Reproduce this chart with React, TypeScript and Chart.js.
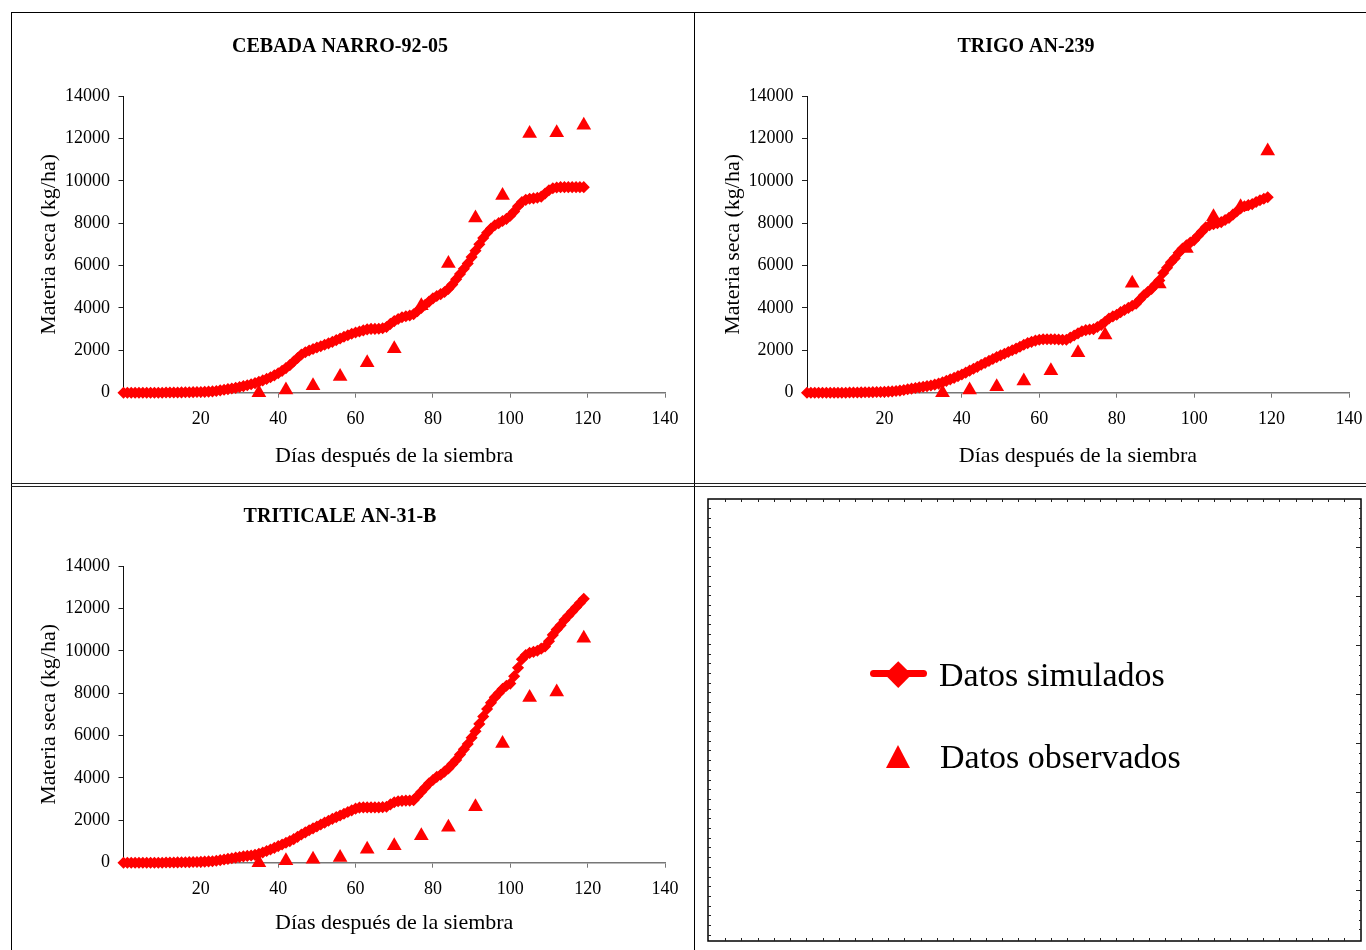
import { useEffect, useRef } from "react";
import { Chart, registerables } from "chart.js";

Chart.register(...registerables);

// ---------------------------------------------------------------------------
// Data: dry matter (kg/ha) against days after sowing
// ---------------------------------------------------------------------------

// Daily steps of the crop-growth simulation
const SIM_DAYS = [
  0, 1, 2, 3, 4, 5, 6, 7, 8, 9, 10, 11, 12, 13, 14, 15, 16, 17, 18, 19, 20,
  21, 22, 23, 24, 25, 26, 27, 28, 29, 30, 31, 32, 33, 34, 35, 36, 37, 38, 39, 40,
  41, 42, 43, 44, 45, 46, 47, 48, 49, 50, 51, 52, 53, 54, 55, 56, 57, 58, 59, 60,
  61, 62, 63, 64, 65, 66, 67, 68, 69, 70, 71, 72, 73, 74, 75, 76, 77, 78, 79, 80,
  81, 82, 83, 84, 85, 86, 87, 88, 89, 90, 91, 92, 93, 94, 95, 96, 97, 98, 99, 100,
  101, 102, 103, 104, 105, 106, 107, 108, 109, 110, 111, 112, 113, 114, 115, 116,
  117, 118, 119,
];

// Weekly field samplings
const OBS_DAYS = [35, 42, 49, 56, 63, 70, 77, 84, 91, 98, 105, 112, 119];

const CEBADA_SIM = [
  0, 0, 0, 0, 0, 0, 0, 0, 0, 0, 0,
  10, 10, 10, 10, 15, 20, 20, 25, 30, 35,
  40, 50, 60, 80, 110, 140, 170, 200, 230, 270,
  310, 350, 400, 450, 510, 580, 650, 730, 820, 920,
  1030, 1160, 1300, 1470, 1640, 1800, 1910, 1990, 2060, 2130,
  2190, 2260, 2330, 2400, 2480, 2560, 2640, 2710, 2780, 2840,
  2890, 2940, 2990, 3010, 3010, 3020, 3040, 3100, 3250, 3380,
  3480, 3560, 3610, 3640, 3700, 3850, 4000, 4150, 4300, 4450,
  4560, 4650, 4750, 4900, 5100, 5350, 5600, 5850, 6100, 6400,
  6700, 7000, 7300, 7550, 7750, 7900, 8000, 8100, 8200, 8350,
  8550, 8800, 9000, 9100, 9150, 9170, 9200, 9250, 9400, 9550,
  9650, 9680, 9700, 9700, 9700, 9700, 9700, 9700, 9700,
];
const CEBADA_OBS = [0, 130, 330, 760, 1410, 2070, 4100, 6100, 8240, 9300, 12230, 12270, 12620];

const TRIGO_SIM = [
  0, 0, 0, 0, 0, 0, 0, 0, 0, 0, 0,
  10, 10, 10, 15, 20, 20, 25, 30, 35, 40,
  50, 60, 80, 100, 130, 160, 190, 220, 250, 280,
  310, 340, 380, 430, 490, 560, 630, 700, 780, 860,
  950, 1040, 1130, 1220, 1320, 1410, 1500, 1590, 1680, 1760,
  1840, 1920, 2000, 2080, 2170, 2260, 2340, 2400, 2460, 2500,
  2520, 2520, 2520, 2520, 2510, 2500, 2500, 2600, 2700, 2800,
  2900, 2950, 2980, 3000, 3100, 3200, 3350, 3500, 3600, 3680,
  3800, 3900, 4000, 4100, 4200, 4400, 4600, 4750, 4900, 5100,
  5300, 5650, 5900, 6150, 6350, 6600, 6800, 6950, 7080, 7200,
  7400, 7600, 7800, 7900, 7950, 8000, 8050, 8150, 8250, 8400,
  8550, 8700, 8800, 8850, 8900, 9000, 9080, 9150, 9220,
];
const TRIGO_OBS = [0, 130, 280, 550, 1040, 1890, 2720, 5160, 5130, 6810, 8300, 8780, 11400];

const TRITICALE_SIM = [
  0, 0, 0, 0, 0, 0, 0, 0, 0, 0, 0,
  10, 10, 10, 15, 20, 20, 25, 30, 35, 40,
  50, 60, 70, 90, 120, 150, 180, 210, 240, 270,
  300, 320, 340, 370, 420, 480, 550, 620, 700, 780,
  860, 940, 1020, 1110, 1220, 1330, 1430, 1530, 1620, 1710,
  1800, 1890, 1980, 2070, 2150, 2230, 2310, 2390, 2470, 2550,
  2600, 2610, 2610, 2610, 2610, 2610, 2620, 2640, 2750, 2850,
  2900, 2920, 2930, 2930, 2950, 3150, 3350, 3550, 3750, 3900,
  4050, 4150, 4300, 4450, 4650, 4850, 5100, 5350, 5600, 5900,
  6200, 6550, 6900, 7250, 7550, 7800, 8000, 8200, 8350, 8450,
  8800, 9200, 9600, 9800, 9900, 9950, 10000, 10100, 10200, 10450,
  10750, 11000, 11200, 11450, 11650, 11850, 12050, 12250, 12450,
];
const TRITICALE_OBS = [0, 90, 160, 250, 640, 800, 1270, 1670, 2640, 5630, 7800, 8050, 10590];

// Axis ranges
const X_MIN = 0;
const X_MAX = 140;
const X_STEP = 20;
const Y_MIN = 0;
const Y_MAX = 14000;
const Y_STEP = 2000;

// Texts
const X_TITLE = "Días después de la siembra";
const Y_TITLE = "Materia seca (kg/ha)";
const LABEL_SIM = "Datos simulados";
const LABEL_OBS = "Datos observados";

// ---------------------------------------------------------------------------
// Styling
// ---------------------------------------------------------------------------
const RED = "#ff0000";
const SERIF = '"Liberation Serif", "Times New Roman", Times, serif';

type PanelProps = {
  title: string;
  sim: number[];
  obs: number[];
  left: number;
  top: number;
  width: number;
  height: number;
  yAxisWidth: number;
  xAxisHeight: number;
  layoutRight: number;
  xPadRight: number;
};

function Panel(p: PanelProps) {
  const ref = useRef<HTMLCanvasElement | null>(null);

  useEffect(() => {
    if (!ref.current) return;
    const chart = new Chart(ref.current, {
      type: "scatter",
      data: {
        datasets: [
          {
            label: LABEL_OBS,
            data: OBS_DAYS.map((x, i) => ({ x, y: p.obs[i] })),
            pointStyle: "triangle",
            pointRadius: 8.5,
            pointBackgroundColor: RED,
            pointBorderColor: RED,
            pointBorderWidth: 0,
            backgroundColor: RED,
            borderColor: RED,
            showLine: false,
            order: 0,
            clip: false,
          },
          {
            label: LABEL_SIM,
            data: SIM_DAYS.map((x, i) => ({ x, y: p.sim[i] })),
            showLine: true,
            tension: 0,
            borderColor: RED,
            backgroundColor: RED,
            borderWidth: 4,
            pointStyle: "rectRot",
            pointRadius: 5,
            pointBackgroundColor: RED,
            pointBorderColor: RED,
            pointBorderWidth: 1.5,
            order: 1,
            clip: false,
          },
        ],
      },
      options: {
        responsive: false,
        animation: false,
        events: [],
        layout: { padding: { left: 0, top: 0, bottom: 0, right: p.layoutRight } },
        plugins: {
          legend: { display: false },
          tooltip: { enabled: false },
          title: {
            display: true,
            text: p.title,
            color: "#000",
            font: { family: SERIF, size: 20, weight: "bold", lineHeight: 1.2 },
            padding: { top: 22, bottom: 37 },
          },
        },
        scales: {
          x: {
            type: "linear",
            min: X_MIN,
            max: X_MAX,
            ticks: {
              stepSize: X_STEP,
              autoSkip: false,
              maxRotation: 0,
              padding: 10.5,
              color: "#000",
              font: { family: SERIF, size: 18 },
              callback: (v: any) => (Number(v) === 0 ? "" : String(v)),
            },
            grid: {
              drawOnChartArea: false,
              drawTicks: true,
              tickLength: 5,
              color: "#777",
              tickColor: "#777",
              lineWidth: 1,
            },
            border: { display: true, color: "#777", width: 1.5 },
            title: {
              display: true,
              text: X_TITLE,
              color: "#000",
              font: { family: SERIF, size: 22, lineHeight: 1.2 },
              padding: { top: 0, bottom: 13 },
            },
            afterFit: (s: any) => {
              s.height = p.xAxisHeight;
              s.paddingRight = p.xPadRight;
            },
          },
          y: {
            type: "linear",
            min: Y_MIN,
            max: Y_MAX,
            ticks: {
              stepSize: Y_STEP,
              padding: 8.5,
              color: "#000",
              font: { family: SERIF, size: 18 },
              callback: (v: any) => String(v),
            },
            grid: {
              drawOnChartArea: false,
              drawTicks: true,
              tickLength: 5,
              color: "#222",
              tickColor: "#222",
              lineWidth: 1,
            },
            border: { display: true, color: "#111", width: 1 },
            title: {
              display: true,
              text: Y_TITLE,
              color: "#000",
              font: { family: SERIF, size: 22, lineHeight: 1.2 },
              padding: { top: 24, bottom: 0 },
            },
            afterFit: (s: any) => {
              s.width = p.yAxisWidth;
            },
          },
        },
      } as any,
    });
    return () => chart.destroy();
  }, []);

  return (
    <canvas
      ref={ref}
      width={p.width}
      height={p.height}
      style={{
        position: "absolute",
        left: p.left,
        top: p.top,
        width: p.width,
        height: p.height,
      }}
    />
  );
}

// Framed legend box with small tick marks around its border
function LegendBox() {
  const ref = useRef<HTMLCanvasElement | null>(null);
  const W = 656;
  const H = 445;

  useEffect(() => {
    const c = ref.current;
    if (!c) return;
    const ctx = c.getContext("2d");
    if (!ctx) return;
    ctx.clearRect(0, 0, W, H);
    ctx.strokeStyle = "#000";
    ctx.lineWidth = 1.5;
    const x0 = 1, y0 = 1, x1 = W - 2, y1 = H - 2;
    ctx.strokeRect(x0, y0, x1 - x0, y1 - y0);

    ctx.lineWidth = 1;
    ctx.strokeStyle = "#222";
    ctx.beginPath();
    // top and bottom edges
    for (let x = 18; x < x1 - 4; x += 16.3) {
      const px = Math.round(x) + 0.5;
      ctx.moveTo(px, y0);
      ctx.lineTo(px, y0 + 3);
      ctx.moveTo(px, y1);
      ctx.lineTo(px, y1 - 3);
    }
    // left edge
    for (let y = 10; y < y1 - 3; y += 9.7) {
      const py = Math.round(y) + 0.5;
      ctx.moveTo(x0, py);
      ctx.lineTo(x0 + 3, py);
    }
    // right edge: fine and coarse marks
    for (let y = 10; y < y1 - 3; y += 9.8) {
      const py = Math.round(y) + 0.5;
      ctx.moveTo(x1, py);
      ctx.lineTo(x1 - 2, py);
    }
    for (let y = 49; y < y1 - 3; y += 49) {
      const py = Math.round(y) + 0.5;
      ctx.moveTo(x1, py);
      ctx.lineTo(x1 - 5, py);
    }
    ctx.stroke();
  }, []);

  return (
    <>
      <canvas
        ref={ref}
        width={W}
        height={H}
        style={{ position: "absolute", left: 707, top: 498, width: W, height: H }}
      />
      {/* simulated: thick line with diamond */}
      <div
        style={{
          position: "absolute",
          left: 870,
          top: 669.5,
          width: 57,
          height: 7,
          background: RED,
          borderRadius: 3.5,
        }}
      />
      <div
        style={{
          position: "absolute",
          left: 889,
          top: 665,
          width: 18.5,
          height: 18.5,
          background: RED,
          transform: "rotate(45deg)",
        }}
      />
      <div
        style={{
          position: "absolute",
          left: 939,
          top: 657.5,
          fontFamily: SERIF,
          fontSize: 34,
          lineHeight: "34px",
          color: "#000",
          whiteSpace: "nowrap",
        }}
      >
        {LABEL_SIM}
      </div>
      {/* observed: triangle */}
      <div
        style={{
          position: "absolute",
          left: 886,
          top: 745,
          width: 0,
          height: 0,
          borderLeft: "12.5px solid transparent",
          borderRight: "12.5px solid transparent",
          borderBottom: `23px solid ${RED}`,
        }}
      />
      <div
        style={{
          position: "absolute",
          left: 940,
          top: 740,
          fontFamily: SERIF,
          fontSize: 34,
          lineHeight: "34px",
          color: "#000",
          whiteSpace: "nowrap",
        }}
      >
        {LABEL_OBS}
      </div>
    </>
  );
}

function Rule(props: { left: number; top: number; width: number; height: number; color?: string }) {
  return (
    <div
      style={{
        position: "absolute",
        left: props.left,
        top: props.top,
        width: props.width,
        height: props.height,
        background: props.color || "#000",
      }}
    />
  );
}

export default function App() {
  return (
    <div
      style={{
        position: "absolute",
        left: 0,
        top: 0,
        width: 1366,
        height: 950,
        overflow: "hidden",
        background: "#fff",
      }}
    >
      {/* table frame */}
      <Rule left={11} top={12} width={1355} height={1} />
      <Rule left={11} top={12} width={1} height={938} />
      <Rule left={694} top={12} width={1} height={938} />
      <Rule left={11} top={483} width={1355} height={1} color="#222" />
      <Rule left={11} top={486} width={1355} height={1} color="#222" />

      <Panel
        title="CEBADA NARRO-92-05"
        sim={CEBADA_SIM}
        obs={CEBADA_OBS}
        left={12}
        top={13}
        width={681}
        height={469}
        yAxisWidth={111.5}
        xAxisHeight={89.3}
        layoutRight={25}
        xPadRight={28}
      />
      <Panel
        title="TRIGO AN-239"
        sim={TRIGO_SIM}
        obs={TRIGO_OBS}
        left={696}
        top={13}
        width={670}
        height={469}
        yAxisWidth={111}
        xAxisHeight={89.3}
        layoutRight={10}
        xPadRight={17}
      />
      <Panel
        title="TRITICALE AN-31-B"
        sim={TRITICALE_SIM}
        obs={TRITICALE_OBS}
        left={12}
        top={483}
        width={681}
        height={466}
        yAxisWidth={111.5}
        xAxisHeight={86.3}
        layoutRight={25}
        xPadRight={28}
      />
      <LegendBox />
    </div>
  );
}
